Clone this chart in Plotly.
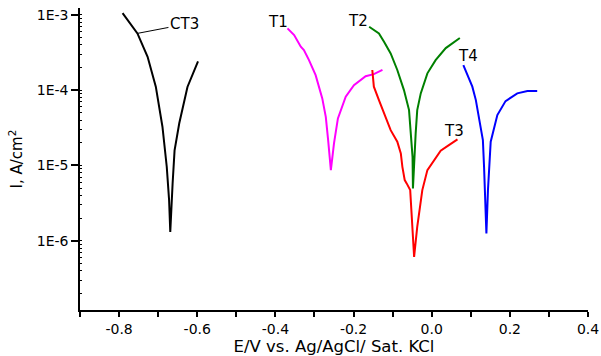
import plotly.graph_objects as go

# ---- data (E in V, I in A/cm2) ----
ct3_E = [-0.791, -0.753, -0.727, -0.706, -0.689, -0.678, -0.672, -0.669,
         -0.663, -0.658, -0.646, -0.625, -0.598]
ct3_I = [1.05e-3, 5.66e-4, 2.77e-4, 1.11e-4, 3.26e-5, 9.6e-6, 3.46e-6, 1.31e-6,
         5.75e-6, 1.58e-5, 3.63e-5, 1.10e-4, 2.40e-4]

t1_E = [-0.369, -0.352, -0.335, -0.327, -0.314, -0.297, -0.280, -0.271, -0.265,
        -0.258, -0.250, -0.240, -0.220, -0.199, -0.169, -0.148, -0.126]
t1_I = [6.59e-4, 5.37e-4, 3.76e-4, 3.40e-4, 2.50e-4, 1.58e-4, 7.76e-5, 4.42e-5, 2.17e-5,
        8.65e-6, 1.96e-5, 4.21e-5, 8.15e-5, 1.16e-4, 1.53e-4, 1.63e-4, 1.85e-4]

t2_E = [-0.160, -0.143, -0.135, -0.122, -0.105, -0.088, -0.071, -0.058, -0.054, -0.049,
        -0.048, -0.045, -0.041, -0.037, -0.028, -0.011, 0.010, 0.036, 0.072]
t2_I = [6.93e-4, 5.94e-4, 5.66e-4, 4.38e-4, 3.07e-4, 1.85e-4, 1.00e-4, 5.42e-5, 2.66e-5, 1.30e-5,
        4.95e-6, 1.17e-5, 2.66e-5, 5.42e-5, 9.04e-5, 1.67e-4, 2.50e-4, 3.61e-4, 4.91e-4]

t3_E = [-0.152, -0.148, -0.135, -0.118, -0.105, -0.088, -0.079, -0.075, -0.069, -0.064, -0.055,
        -0.052, -0.049, -0.045, -0.037, -0.028, -0.024, -0.011, 0.006, 0.023, 0.044, 0.066]
t3_I = [1.85e-4, 1.11e-4, 7.36e-5, 4.42e-5, 2.94e-5, 2.06e-5, 1.44e-5, 9.57e-6, 6.38e-6, 5.77e-6, 4.70e-6,
        2.55e-6, 1.25e-6, 6.11e-7, 1.53e-6, 3.13e-6, 4.70e-6, 8.67e-6, 1.17e-5, 1.57e-5, 1.86e-5, 2.21e-5]

t4_E = [0.081, 0.091, 0.104, 0.113, 0.118, 0.125, 0.131, 0.134, 0.136, 0.140,
        0.144, 0.151, 0.168, 0.189, 0.219, 0.245, 0.270]
t4_I = [2.15e-4, 1.58e-4, 1.11e-4, 7.36e-5, 5.15e-5, 3.26e-5, 2.17e-5, 9.57e-6, 3.83e-6, 1.25e-6,
        4.70e-6, 2.06e-5, 4.66e-5, 7.14e-5, 9.04e-5, 9.70e-5, 9.70e-5]

x_ticks = [-0.8, -0.6, -0.4, -0.2, 0.0, 0.2, 0.4]
x_ticktext = ["-0.8", "-0.6", "-0.4", "-0.2", "0.0", "0.2", "0.4"]
y_ticks = [1e-6, 1e-5, 1e-4, 1e-3]
y_ticktext = ["1E-6", "1E-5", "1E-4", "1E-3"]

series = [
    ("CT3", ct3_E, ct3_I, "#000000"),
    ("T1", t1_E, t1_I, "#FF00FF"),
    ("T2", t2_E, t2_I, "#008000"),
    ("T3", t3_E, t3_I, "#FF0000"),
    ("T4", t4_E, t4_I, "#0000FF"),
]

FONT = "DejaVu Sans"

fig = go.Figure()
for name, xs, ys, col in series:
    fig.add_trace(go.Scatter(x=xs, y=ys, mode="lines", name=name,
                             line=dict(color=col, width=2), showlegend=False))

lab_font = dict(family=FONT, size=15, color="black")
# text labels (annotation positions: x in V, y in log10 units)
fig.add_annotation(x=-0.394, y=-3.097, text="T1", showarrow=False, font=lab_font)
fig.add_annotation(x=-0.189, y=-3.084, text="T2", showarrow=False, font=lab_font)
fig.add_annotation(x=0.056, y=-4.545, text="T3", showarrow=False, font=lab_font)
fig.add_annotation(x=0.092, y=-3.548, text="T4", showarrow=False, font=lab_font)
fig.add_annotation(x=-0.753, y=-3.247, text="CT3", showarrow=True, arrowhead=0,
                   arrowwidth=1, arrowcolor="black", ax=47, ay=-9, standoff=0,
                   font=lab_font)

fig.update_layout(
    width=601, height=356,
    margin=dict(l=80, r=13, t=8, b=46),
    paper_bgcolor="white", plot_bgcolor="white",
    font=dict(family=FONT, color="black"),
    xaxis=dict(
        range=[-0.9, 0.4], tickvals=x_ticks, ticktext=x_ticktext, automargin=False,
        showgrid=False, zeroline=False, showline=True, linecolor="black", linewidth=1.5,
        ticks="outside", ticklen=5, tickwidth=1.5, tickcolor="black",
        minor=dict(dtick=0.2, tick0=-0.9, ticks="outside", ticklen=5, tickwidth=1.5,
                   tickcolor="black", showgrid=False),
        tickfont=dict(family=FONT, size=14, color="black"),
        title=dict(text="E/V vs. Ag/AgCl/ Sat. KCl", standoff=0,
                   font=dict(family=FONT, size=16.5, color="black")),
    ),
    yaxis=dict(
        type="log", range=[-6.92, -2.91], tickvals=y_ticks, ticktext=y_ticktext,
        automargin=False,
        showgrid=False, zeroline=False, showline=True, linecolor="black", linewidth=1.5,
        ticks="outside", ticklen=7, tickwidth=1.5, tickcolor="black",
        minor=dict(dtick="D1", ticks="inside", ticklen=2, tickwidth=1,
                   tickcolor="black", showgrid=False),
        tickfont=dict(family=FONT, size=14, color="black"),
        title=dict(text="I, A/cm<sup>2</sup>", standoff=10,
                   font=dict(family=FONT, size=15, color="black")),
    ),
)

fig.write_html("out.html")
